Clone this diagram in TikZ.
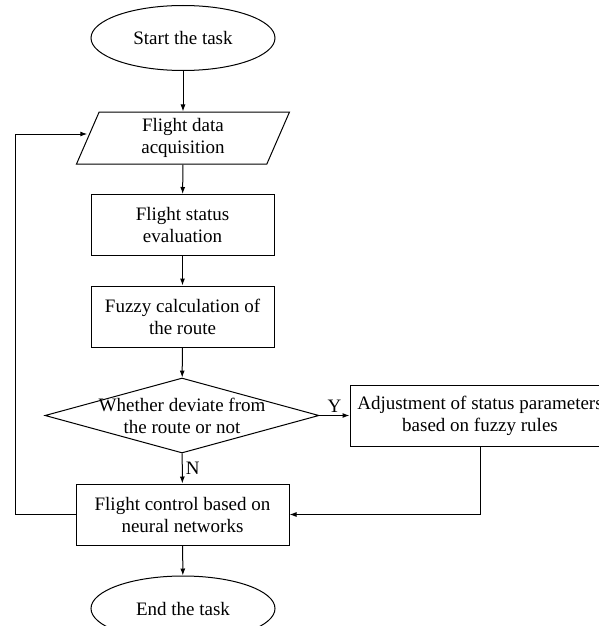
\documentclass[tikz,border=0pt]{standalone}
\usepackage{fontspec}
\setmainfont{Liberation Serif}
\usetikzlibrary{shapes.geometric,arrows.meta}
\begin{document}
\begin{tikzpicture}[x=1pt,y=-1pt,line width=1pt,
  every node/.style={font=\fontsize{19}{22}\selectfont,align=center,inner sep=0pt},
  term/.style={draw,ellipse,minimum width=184pt,minimum height=65pt},
  iobox/.style={draw,trapezium,trapezium left angle=60,trapezium right angle=120,
    trapezium stretches body,minimum width=213pt,minimum height=52pt},
  procbox/.style={draw,rectangle,minimum width=183pt,minimum height=61pt},
  decbox/.style={draw,diamond,aspect=3.65,minimum width=274pt,minimum height=75pt},
  flow/.style={-{Latex[length=7pt,width=5pt]}}]
\useasboundingbox (0,0) rectangle (599,626);
\clip (0,0) rectangle (599,626);      % picture is cut at right and bottom
\node[term] (start) at (183,38) {Start the task};
\node[iobox] (data) at (183,138) {Flight data\\acquisition};
\node[procbox] (status) at (182.5,225) {Flight status\\evaluation};
\node[procbox] (fuzzy) at (182.5,316.5) {Fuzzy calculation of\\the route};
\node[decbox] (dev) at (182,415.5) {};
\node (devtext) at (dev.center) {Whether deviate from\\the route or not};
\node[procbox,minimum width=260pt] (adjust) at (480,415.5) {Adjustment of status parameters\\based on fuzzy rules};
\node[procbox,minimum width=213pt] (ctrl) at (182.5,514.5) {Flight control based on\\neural networks};
\node[term] (stop) at (183,608.5) {End the task};
\coordinate (loop) at (15,134);
% main flow
\draw[flow] (start) -- (data);
\draw[flow] (data) -- (status);
\draw[flow] (status) -- (fuzzy);
\draw[flow] (fuzzy) -- (dev);
\draw[flow] (dev) -- node[right=3pt] (no) {N} (ctrl);
\draw[flow] (dev) -- node[above=3pt] (yes) {Y} (adjust);
\draw[flow] (ctrl) -- (stop);
% back loops
\draw[flow] (adjust.south) |- (ctrl.east);
\draw[flow] (ctrl.west) -| (loop) -- (loop -| data.west);
\end{tikzpicture}
\end{document}
